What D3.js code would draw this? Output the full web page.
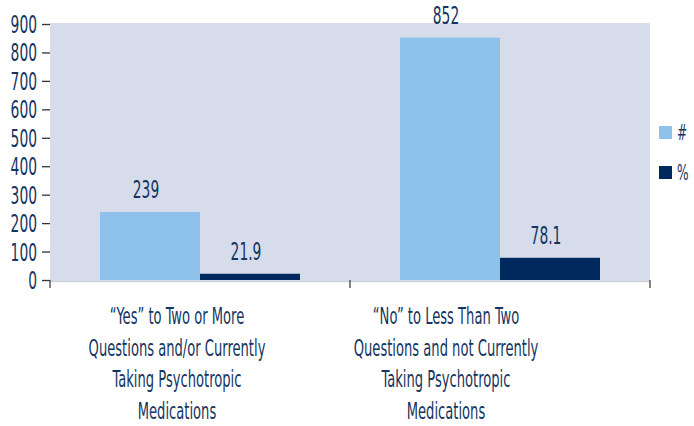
<!DOCTYPE html>
<html><head><meta charset="utf-8">
<script src="https://cdn.jsdelivr.net/npm/d3@7"></script>
<style>
body{margin:0;background:#fff;}
text{font-family:"DejaVu Sans Condensed","DejaVu Sans",sans-serif;fill:#15355f;}
</style></head>
<body><svg id="c" width="694" height="426"></svg>
<script>
const categories = [
  ["\u201cYes\u201d to Two or More","Questions and/or Currently","Taking Psychotropic","Medications"],
  ["\u201cNo\u201d to Less Than Two","Questions and not Currently","Taking Psychotropic","Medications"]
];
const seriesNames = ["#", "%"];
const countValues = [239, 852];
const percentValues = [21.9, 78.1];
const valueLabels = [["239","21.9"],["852","78.1"]];
const yTicks = [0,100,200,300,400,500,600,700,800,900];

const colors = ["#8fc2ea", "#00295d"];
const svg = d3.select("#c");
const L = 50, R = 650, T = 24, B = 280;

const x0 = d3.scaleBand().domain([0,1]).range([L,R]).paddingInner(0).paddingOuter(0);
const x1 = d3.scaleBand().domain([0,1]).range([50, 250]);
const y = d3.scaleLinear().domain([0,900]).range([B,T]);

svg.append("rect").attr("x",L).attr("y",23).attr("width",R-L).attr("height",B-23+1).attr("fill","#d6dcea");
svg.append("line").attr("x1",L).attr("x2",R).attr("y1",B+1.5).attr("y2",B+1.5).attr("stroke","#cfd3dc").attr("stroke-width",1.5);

const sx = 0.615;
// y axis
const ya = svg.append("g").attr("transform",`translate(${L},0)`)
  .call(d3.axisLeft(y).tickValues(yTicks).tickSize(8).tickFormat(""));
ya.select(".domain").remove();
ya.selectAll(".tick line").attr("stroke","#333").attr("stroke-width",1.3);
svg.selectAll(".yl").data(yTicks).join("text")
  .attr("text-anchor","end").attr("font-size",25)
  .attr("transform",d=>`translate(37,${y(d)+9}) scale(${sx},1)`)
  .text(d=>d);

// x ticks
svg.selectAll(".xt").data([L,(L+R)/2,R]).join("line")
  .attr("x1",d=>d).attr("x2",d=>d).attr("y1",B).attr("y2",B+8).attr("stroke","#444").attr("stroke-width",1.3);

const data = [0,1].map(i=>({i, vals:[countValues[i], percentValues[i]]}));
const g = svg.selectAll(".grp").data(data).join("g").attr("transform",d=>`translate(${x0(d.i)},0)`);
g.selectAll("rect").data(d=>d.vals.map((v,j)=>({v,j,i:d.i}))).join("rect")
  .attr("x",d=>x1(d.j)).attr("width",x1.bandwidth())
  .attr("y",d=>y(d.v)).attr("height",d=>B-y(d.v)).attr("fill",d=>colors[d.j]);
g.selectAll(".vl").data(d=>d.vals.map((v,j)=>({v,j,i:d.i}))).join("text")
  .attr("text-anchor","middle").attr("font-size",25)
  .attr("transform",d=>`translate(${x1(d.j)+x1.bandwidth()/2-4},${y(d.v)-14}) scale(${sx},1)`)
  .text(d=>valueLabels[d.i][d.j]);

// category labels
const catOffsets = [-23,-54];
categories.forEach((lines,i)=>{
  lines.forEach((ln,k)=>{
    svg.append("text").attr("text-anchor","middle").attr("font-size",23.5)
      .attr("transform",`translate(${x0(i)+x0.bandwidth()/2+catOffsets[i]},${324+k*31.7}) scale(0.62,1)`)
      .text(ln);
  });
});

// legend
seriesNames.forEach((n,j)=>{
  svg.append("rect").attr("x",659).attr("y",126+j*40).attr("width",13).attr("height",13).attr("fill",colors[j]);
  svg.append("text").attr("font-size",22).attr("transform",`translate(677,${140+j*40}) scale(${sx},1)`).text(n);
});
</script></body></html>
